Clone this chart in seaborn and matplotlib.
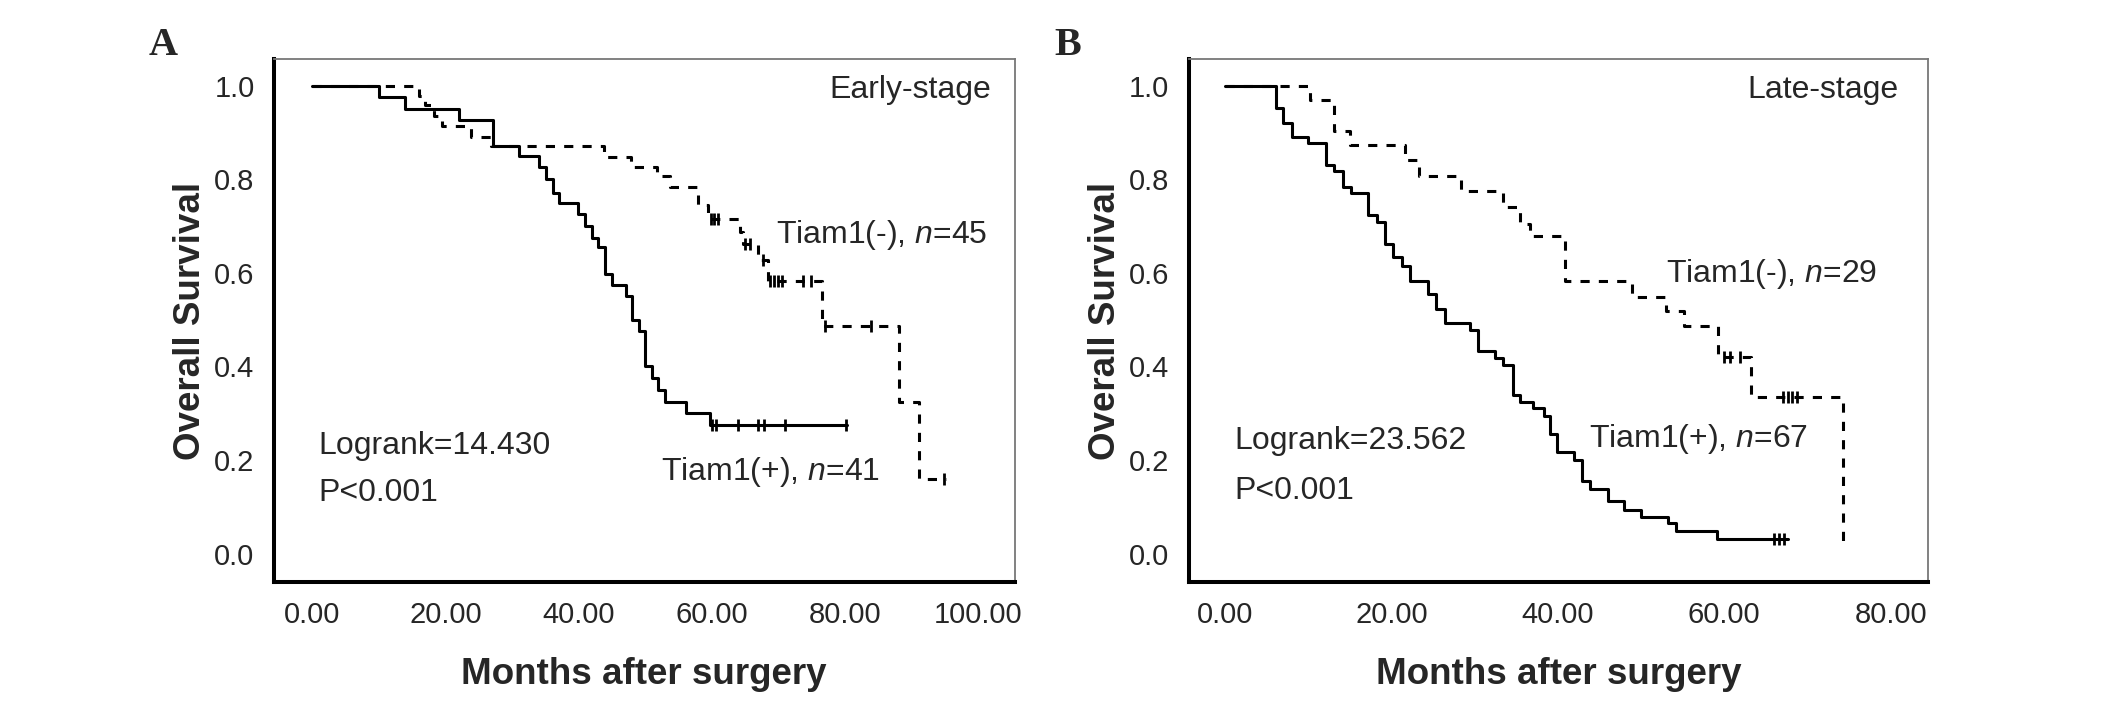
import numpy as np
import matplotlib
matplotlib.use("Agg")
import matplotlib.pyplot as plt
import seaborn as sns

# ---- Panel A: early-stage ----
a_pos_t = [0, 10.0, 14.0, 22.0, 27.1, 31.1, 34.1, 35.1, 36.1, 37.1, 40.0, 41.0, 42.0,
           43.0, 44.0, 45.1, 47.1, 48.1, 49.1, 50.0, 51.0, 52.0, 53.0, 56.1, 59.8]
a_pos_s = [1.0, 0.975, 0.949, 0.926, 0.871, 0.849, 0.825, 0.800, 0.770, 0.749, 0.726, 0.700, 0.675,
           0.654, 0.597, 0.574, 0.550, 0.498, 0.475, 0.400, 0.376, 0.350, 0.323, 0.300, 0.274]
a_pos_end = 80.3
a_pos_cens = [60.1, 60.6, 64.0, 67.0, 67.8, 71.0, 80.2]

a_neg_t = [0, 16.0, 17.0, 18.3, 19.5, 23.8, 26.8, 43.9, 47.9, 51.8, 53.7, 57.9, 59.5,
           64.2, 64.7, 66.9, 68.4, 76.6, 88.2, 91.2]
a_neg_s = [1.0, 0.977, 0.958, 0.935, 0.914, 0.891, 0.871, 0.848, 0.825, 0.806, 0.783, 0.745, 0.715,
           0.688, 0.662, 0.627, 0.582, 0.487, 0.323, 0.160]
a_neg_end = 95.2
a_neg_cens = [59.9, 60.4, 61.0, 65.0, 65.7, 67.7, 68.8, 69.4, 70.0, 70.6, 73.7, 74.9, 77.0, 83.9, 94.9]

# ---- Panel B: late-stage ----
b_pos_t = [0, 6.1, 7.0, 8.0, 10.0, 12.1, 13.1, 14.1, 15.1, 17.2, 18.2, 19.2, 20.2, 21.2, 22.2,
           24.4, 25.3, 26.4, 29.4, 30.4, 32.4, 33.4, 34.6, 35.4, 37.0, 38.3, 39.1, 39.9, 41.9,
           42.9, 43.9, 46.0, 48.0, 50.0, 53.2, 54.2, 59.1]
b_pos_s = [1.0, 0.953, 0.921, 0.891, 0.878, 0.831, 0.817, 0.784, 0.770, 0.723, 0.709, 0.662, 0.633,
           0.615, 0.583, 0.555, 0.522, 0.493, 0.478, 0.432, 0.417, 0.403, 0.338, 0.324, 0.310,
           0.295, 0.255, 0.216, 0.201, 0.155, 0.138, 0.112, 0.094, 0.079, 0.065, 0.049, 0.032]
b_pos_end = 67.6
b_pos_cens = [66.0, 66.6, 67.2]

b_neg_t = [0, 10.2, 13.1, 15.0, 21.6, 23.3, 28.3, 33.4, 35.4, 36.6, 40.9, 48.9, 53.0, 55.1,
           59.3, 63.2, 74.3]
b_neg_s = [1.0, 0.969, 0.903, 0.872, 0.840, 0.806, 0.775, 0.741, 0.705, 0.678, 0.583, 0.548,
           0.518, 0.486, 0.419, 0.335, 0.018]
b_neg_end = 74.3
b_neg_cens = [60.0, 60.7, 61.9, 67.1, 67.6, 68.2, 68.8]

xticks_a = [0, 20, 40, 60, 80, 100]
xticks_b = [0, 20, 40, 60, 80]
yticks = [0.0, 0.2, 0.4, 0.6, 0.8, 1.0]

sns.set_style("white")
plt.rcParams['font.family'] = ['Liberation Sans', 'DejaVu Sans']
plt.rcParams['mathtext.fontset'] = 'custom'
plt.rcParams['mathtext.rm'] = 'Liberation Sans'
plt.rcParams['mathtext.it'] = 'Liberation Sans:italic'


def surv_at(t, times, surv):
    idx = np.searchsorted(times, t, side='right') - 1
    return np.asarray(surv)[idx]


def draw_km(ax, times, surv, end, cens, ls):
    x = list(times)
    y = list(surv)
    if end > x[-1]:
        x.append(end)
        y.append(y[-1])
    sns.lineplot(x=x, y=y, ax=ax, estimator=None, sort=False, color='black',
                 linewidth=2.2, drawstyle='steps-post', linestyle=ls)
    # censored patients as small ticks on the curve
    cy = surv_at(np.array(cens), times, surv)
    ax.plot(cens, cy, linestyle='none', marker='|', markersize=9,
            markeredgewidth=2.0, color='black')


def style_axes(ax, xticks, xlim):
    ax.set_xlim(*xlim)
    ax.set_ylim(-0.06, 1.056)
    ax.set_xticks(xticks)
    ax.set_xticklabels([f"{v:.2f}" for v in xticks])
    ax.set_yticks(yticks)
    ax.set_yticklabels([f"{v:.1f}" for v in yticks])
    for side in ['left', 'bottom']:
        ax.spines[side].set_linewidth(2.9)
        ax.spines[side].set_color('black')
    for side in ['top', 'right']:
        ax.spines[side].set_linewidth(1.3)
        ax.spines[side].set_color('#777777')
    ax.tick_params(axis='both', direction='out', length=10, width=1.4,
                   color='#333333', labelsize=21, pad=4)
    ax.set_xlabel('Months after surgery', fontsize=26.5, fontweight='bold')
    ax.set_ylabel('Overall Survival', fontsize=26.5, fontweight='bold')
    ax.xaxis.set_label_coords(0.5, -0.145)
    ax.yaxis.set_label_coords(-0.089, 0.5)


fig = plt.figure(figsize=(21.26, 7.19), dpi=100)
axA = fig.add_axes([0.1289, 0.191, 0.3483, 0.7265])
axB = fig.add_axes([0.5591, 0.191, 0.3478, 0.7265])

dash = (0, (3, 3))
draw_km(axA, a_neg_t, a_neg_s, a_neg_end, a_neg_cens, dash)
draw_km(axA, a_pos_t, a_pos_s, a_pos_end, a_pos_cens, '-')
draw_km(axB, b_neg_t, b_neg_s, b_neg_end, b_neg_cens, dash)
draw_km(axB, b_pos_t, b_pos_s, b_pos_end, b_pos_cens, '-')

style_axes(axA, xticks_a, (-5.73, 105.5))
style_axes(axB, xticks_b, (-4.4, 84.5))

fs = 23
axA.text(102, 0.99, 'Early-stage', fontsize=fs, ha='right', va='center')
axA.text(69.7, 0.68, r'Tiam1(-), $\mathit{n}$=45', fontsize=fs, ha='left', va='center')
axA.text(52.4, 0.175, r'Tiam1(+), $\mathit{n}$=41', fontsize=fs, ha='left', va='center')
axA.text(1.0, 0.23, 'Logrank=14.430', fontsize=fs, ha='left', va='center')
axA.text(1.0, 0.13, 'P<0.001', fontsize=fs, ha='left', va='center')

axB.text(81, 0.99, 'Late-stage', fontsize=fs, ha='right', va='center')
axB.text(53.0, 0.597, r'Tiam1(-), $\mathit{n}$=29', fontsize=fs, ha='left', va='center')
axB.text(43.7, 0.245, r'Tiam1(+), $\mathit{n}$=67', fontsize=fs, ha='left', va='center')
axB.text(1.1, 0.241, 'Logrank=23.562', fontsize=fs, ha='left', va='center')
axB.text(1.1, 0.133, 'P<0.001', fontsize=fs, ha='left', va='center')

fig.text(0.0767, 0.937, 'A', fontsize=29, fontweight='bold',
         family='Liberation Serif', ha='center', va='center')
fig.text(0.5024, 0.937, 'B', fontsize=29, fontweight='bold',
         family='Liberation Serif', ha='center', va='center')

fig.savefig('out.png', dpi=100, facecolor='white')
